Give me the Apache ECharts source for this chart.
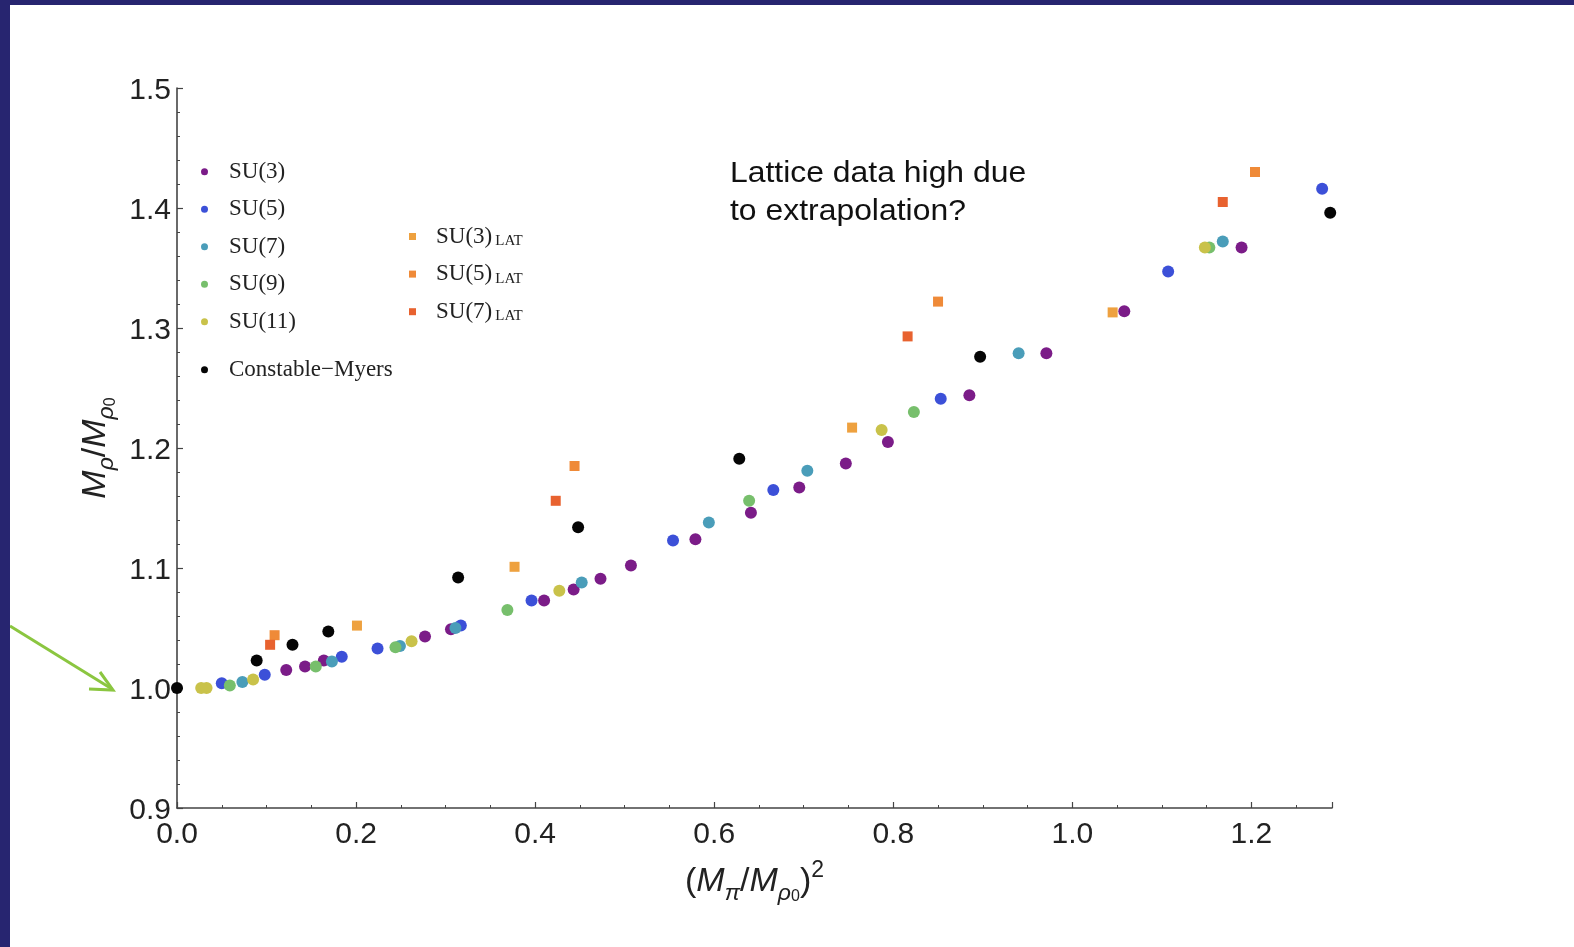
<!DOCTYPE html>
<html>
<head>
<meta charset="utf-8">
<title>Rho mass vs pion mass squared</title>
<script src="https://cdn.jsdelivr.net/npm/echarts@6/dist/echarts.min.js"></script>
<style>
  html, body { margin: 0; padding: 0; background: #ffffff; }
  #chart { width: 1574px; height: 947px; }
</style>
</head>
<body>
<div id="chart"></div>
<script>
// (M_pi / M_rho0)^2  vs  M_rho / M_rho0
const su3 = [[0.122,1.015],[0.143,1.018],[0.164,1.023],[0.277,1.043],[0.306,1.049],[0.410,1.073],[0.443,1.082],[0.473,1.091],[0.507,1.102],[0.579,1.124],[0.641,1.146],[0.695,1.167],[0.747,1.187],[0.794,1.205],[0.885,1.244],[0.971,1.279],[1.058,1.314],[1.189,1.367]];
const su5 = [[0.050,1.004],[0.098,1.011],[0.184,1.026],[0.224,1.033],[0.317,1.052],[0.396,1.073],[0.554,1.123],[0.666,1.165],[0.853,1.241],[1.107,1.347],[1.279,1.416]];
const su7 = [[0.073,1.005],[0.173,1.022],[0.249,1.035],[0.311,1.050],[0.452,1.088],[0.594,1.138],[0.704,1.181],[0.940,1.279],[1.168,1.372]];
const su9 = [[0.059,1.002],[0.155,1.018],[0.244,1.034],[0.369,1.065],[0.639,1.156],[0.823,1.230],[1.153,1.367]];
const su11 = [[0.027,1.000],[0.033,1.000],[0.085,1.007],[0.262,1.039],[0.427,1.081],[0.787,1.215],[1.148,1.367]];
const constableMyers = [[0.000,1.000],[0.089,1.023],[0.129,1.036],[0.169,1.047],[0.314,1.092],[0.448,1.134],[0.628,1.191],[0.897,1.276],[1.288,1.396]];
const su3Lat = [[0.201,1.052],[0.377,1.101],[0.754,1.217],[1.045,1.313]];
const su5Lat = [[0.109,1.044],[0.444,1.185],[0.850,1.322],[1.204,1.430]];
const su7Lat = [[0.104,1.036],[0.423,1.156],[0.816,1.293],[1.168,1.405]];

const xTickLabels = ['0.0', '0.2', '0.4', '0.6', '0.8', '1.0', '1.2'];
const yTickLabels = ['0.9', '1.0', '1.1', '1.2', '1.3', '1.4', '1.5'];

const dotSeries = [
  { name: 'SU(3)', data: su3, color: '#7b1c88' },
  { name: 'SU(5)', data: su5, color: '#3c50d8' },
  { name: 'SU(7)', data: su7, color: '#4a9db9' },
  { name: 'SU(9)', data: su9, color: '#77bf6c' },
  { name: 'SU(11)', data: su11, color: '#c9c24a' },
  { name: 'Constable\u2212Myers', data: constableMyers, color: '#050505' }
];
const latSeries = [
  { name: 'SU(3)LAT', data: su3Lat, color: '#eea13f' },
  { name: 'SU(5)LAT', data: su5Lat, color: '#ef8a38' },
  { name: 'SU(7)LAT', data: su7Lat, color: '#e8622f' }
];

const sansFont = 'Liberation Sans, Arial, Helvetica, sans-serif';
const serifFont = 'Liberation Serif, Times New Roman, serif';

const series = [];
latSeries.forEach(s => series.push({
  type: 'scatter', name: s.name, data: s.data, symbol: 'rect', symbolSize: 10,
  itemStyle: { color: s.color, opacity: 1 }
}));
dotSeries.forEach(s => series.push({
  type: 'scatter', name: s.name, data: s.data, symbol: 'circle', symbolSize: 12,
  itemStyle: { color: s.color, opacity: 1 }
}));

const legendText = {
  color: '#222', fontFamily: serifFont, fontSize: 23, lineHeight: 24,
  padding: [0, 0, 0, 16]
};

const nameRich = {
  t: { fontFamily: sansFont, fontSize: 34, color: '#222', lineHeight: 46 },
  i: { fontFamily: sansFont, fontSize: 34, fontStyle: 'italic', color: '#222', lineHeight: 46 },
  s: { fontFamily: sansFont, fontSize: 23, fontStyle: 'italic', color: '#222', lineHeight: 46, verticalAlign: 'bottom' },
  z: { fontFamily: sansFont, fontSize: 16, color: '#222', lineHeight: 46, verticalAlign: 'bottom' },
  p: { fontFamily: sansFont, fontSize: 23, color: '#222', lineHeight: 46, verticalAlign: 'top' }
};

const option = {
  backgroundColor: '#ffffff',
  animation: false,
  grid: { left: 177, right: 242, top: 88, bottom: 139, containLabel: false },
  xAxis: {
    type: 'value', min: 0, max: 1.29, interval: 0.2,
    name: '{t|(}{i|M}{s|\u03c0}{t|/}{i|M}{s|\u03c1}{z|0}{t|)}{p|2}',
    nameLocation: 'middle', nameGap: 51,
    nameTextStyle: { rich: nameRich },
    axisLine: { show: true, lineStyle: { color: '#444', width: 1.6 } },
    axisTick: { show: true, inside: true, length: 6, lineStyle: { color: '#444', width: 1.2 } },
    minorTick: { show: true, splitNumber: 4, length: 3, lineStyle: { color: '#444', width: 1 } },
    splitLine: { show: false },
    axisLabel: {
      showMaxLabel: false, margin: 12, color: '#222', fontFamily: sansFont, fontSize: 30,
      formatter: v => xTickLabels[Math.round(v / 0.2)] || ''
    }
  },
  yAxis: {
    type: 'value', min: 0.9, max: 1.5, interval: 0.1,
    name: '{i|M}{s|\u03c1}{t|/}{i|M}{s|\u03c1}{z|0}',
    nameLocation: 'middle', nameGap: 57, nameRotate: 90,
    nameTextStyle: { rich: nameRich },
    axisLine: { show: true, lineStyle: { color: '#444', width: 1.6 } },
    axisTick: { show: true, inside: true, length: 6, lineStyle: { color: '#444', width: 1.2 } },
    minorTick: { show: true, splitNumber: 5, length: 3, lineStyle: { color: '#444', width: 1 } },
    splitLine: { show: false },
    axisLabel: {
      margin: 6, verticalAlign: 'top', lineHeight: 6, color: '#222', fontFamily: sansFont, fontSize: 30,
      formatter: v => yTickLabels[Math.round((v - 0.9) / 0.1)] || ''
    }
  },
  legend: [
    {
      orient: 'vertical', left: 201, top: 159.7, padding: 0, itemWidth: 7, itemHeight: 7, itemGap: 13.5,
      selectedMode: false, data: dotSeries.slice(0, 5).map(s => s.name), textStyle: legendText
    },
    {
      orient: 'vertical', left: 201, top: 357.8, padding: 0, itemWidth: 7, itemHeight: 7,
      selectedMode: false, data: [dotSeries[5].name], textStyle: legendText
    },
    {
      orient: 'vertical', left: 409, top: 224.5, padding: 0, itemWidth: 7, itemHeight: 7, itemGap: 13.6,
      selectedMode: false, data: latSeries.map(s => s.name),
      formatter: n => '{a|' + n.replace('LAT', '') + '}{b|LAT}',
      textStyle: {
        color: '#222', fontFamily: serifFont, fontSize: 23, lineHeight: 24, padding: [0, 0, 0, 15],
        rich: {
          a: { fontFamily: serifFont, fontSize: 23, color: '#222', lineHeight: 24 },
          b: { fontFamily: serifFont, fontSize: 15, color: '#222', lineHeight: 24, verticalAlign: 'bottom', padding: [0, 0, 0, 3] }
        }
      }
    }
  ],
  graphic: [
    { type: 'rect', left: 0, top: 0, z: 100, shape: { width: 1574, height: 5 }, style: { fill: '#272570' } },
    { type: 'rect', left: 0, top: 0, z: 100, shape: { width: 10, height: 947 }, style: { fill: '#272570' } },
    {
      type: 'polyline', z: 90,
      shape: { points: [[10, 626], [112, 689]] },
      style: { stroke: '#8bc640', lineWidth: 3, fill: null }
    },
    {
      type: 'polyline', z: 90,
      shape: { points: [[89, 689], [113, 690], [100, 672]] },
      style: { stroke: '#8bc640', lineWidth: 3, fill: null, lineJoin: 'miter' }
    },
    {
      type: 'text', left: 730, top: 155, z: 90, scaleX: 1.1,
      style: {
        text: 'Lattice data high due\nto extrapolation?',
        fontFamily: sansFont, fontSize: 29, lineHeight: 38, fill: '#111'
      }
    }
  ],
  series: series
};

const chart = echarts.init(document.getElementById('chart'), null, { renderer: 'canvas' });
chart.setOption(option);
</script>
</body>
</html>
